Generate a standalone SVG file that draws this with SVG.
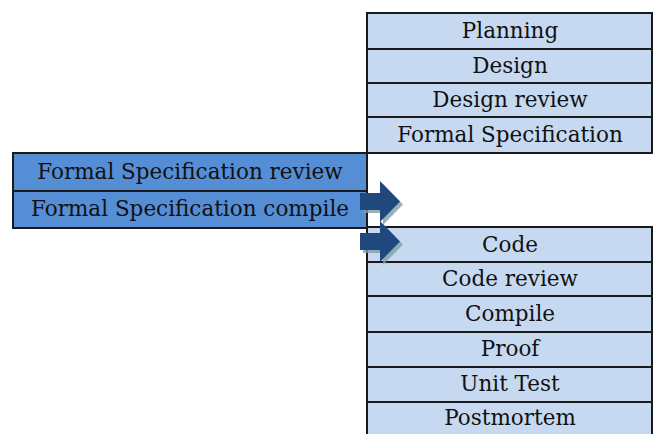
<svg xmlns="http://www.w3.org/2000/svg" width="654" height="434" viewBox="0 0 654 434">
<style>
.lt{fill:#C6D9F1;stroke:#1a1a1a;stroke-width:2}
.dk{fill:#558ED5;stroke:#1a1a1a;stroke-width:2}
text{font-family:"DejaVu Serif","Liberation Serif",serif;font-size:21.5px;fill:#111;text-anchor:middle}
.arr{fill:#1F497D}
.sh{fill:#7F9EA6;opacity:0.8}
</style>
<rect width="654" height="434" fill="#fff"/>
<g id="top">
<g id="planning"><rect class="lt" x="367" y="13" width="285" height="36"/><text x="510" y="38">Planning</text></g>
<g id="design"><rect class="lt" x="367" y="49" width="285" height="34"/><text x="510" y="73">Design</text></g>
<g id="design-review"><rect class="lt" x="367" y="83" width="285" height="34"/><text x="510" y="107">Design review</text></g>
<g id="formal-spec"><rect class="lt" x="367" y="117" width="285" height="36"/><text x="510" y="142">Formal Specification</text></g>
</g>
<g id="bottom">
<g id="code"><rect class="lt" x="367" y="227" width="285" height="35"/><text x="510" y="252">Code</text></g>
<g id="code-review"><rect class="lt" x="367" y="262" width="285" height="34"/><text x="510" y="286">Code review</text></g>
<g id="compile"><rect class="lt" x="367" y="296" width="285" height="36"/><text x="510" y="321">Compile</text></g>
<g id="proof"><rect class="lt" x="367" y="332" width="285" height="35"/><text x="510" y="356">Proof</text></g>
<g id="unit-test"><rect class="lt" x="367" y="367" width="285" height="35"/><text x="510" y="391">Unit Test</text></g>
<g id="postmortem"><rect class="lt" x="367" y="402" width="285" height="40"/><text x="510" y="425">Postmortem</text></g>
</g>
<g id="left">
<g id="fs-review"><rect class="dk" x="13" y="153" width="354" height="38"/><text x="190" y="179">Formal Specification review</text></g>
<g id="fs-compile"><rect class="dk" x="13" y="191" width="354" height="37"/><text x="190" y="216">Formal Specification compile</text></g>
</g>
<g id="connectors">
<polygon class="sh" points="363,196 383,196 383,184 403,204.5 383,225 383,213 363,213"/>
<polygon class="arr" points="360,193 380,193 380,181 400,201.5 380,222 380,210 360,210"/>
<polygon class="sh" points="363,236 383,236 383,224 403,244.5 383,265 383,253 363,253"/>
<polygon class="arr" points="360,233 380,233 380,221 400,241.5 380,262 380,250 360,250"/>
</g>
</svg>
